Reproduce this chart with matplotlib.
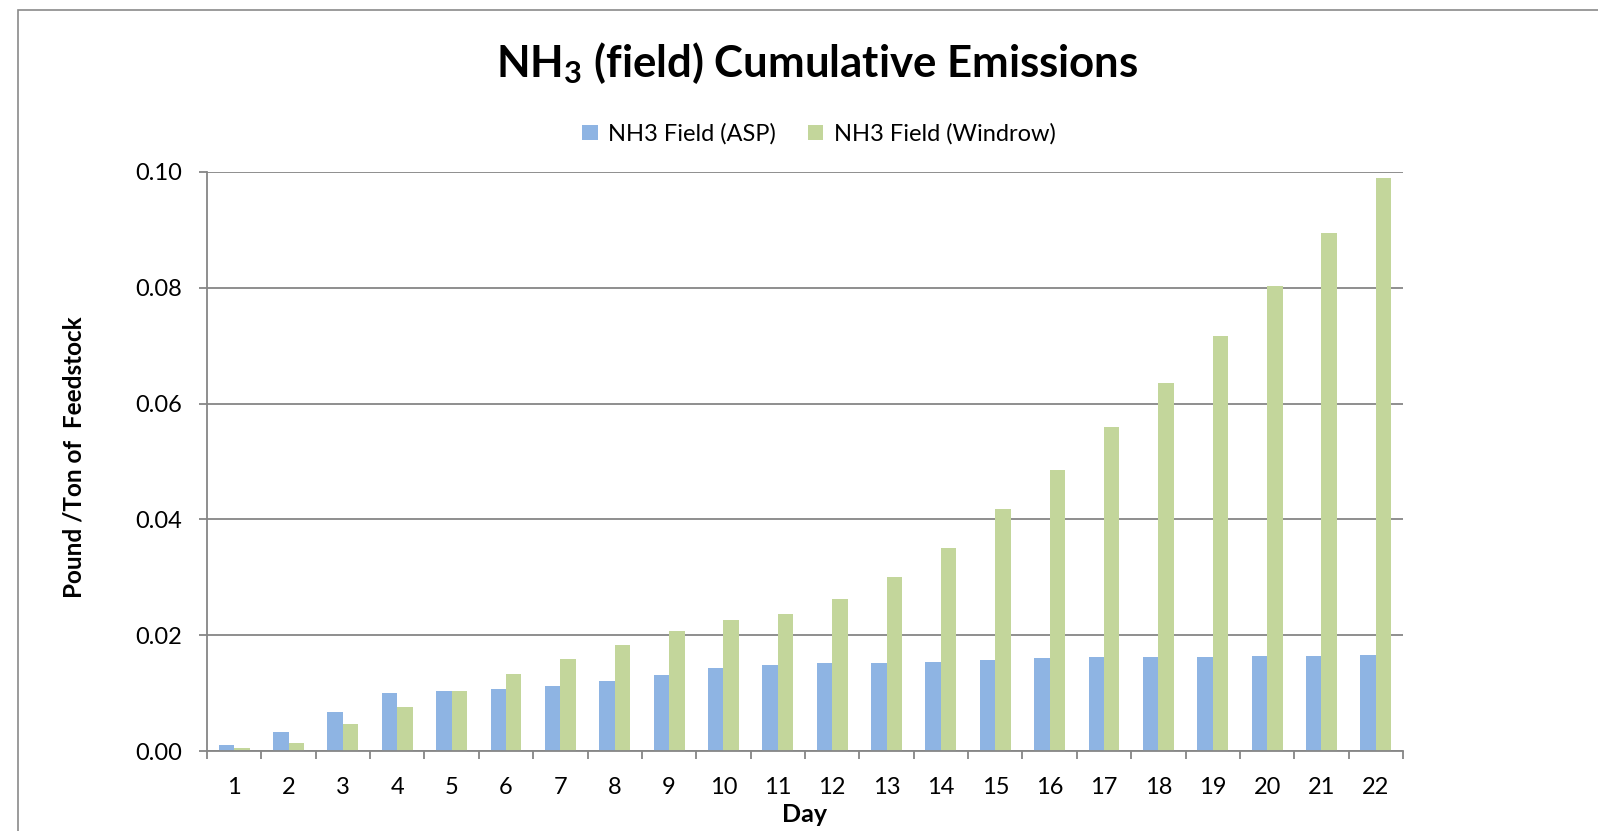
import matplotlib
matplotlib.use("Agg")
import matplotlib.pyplot as plt
from matplotlib.patches import Rectangle
import numpy as np

days = [str(d) for d in range(1, 23)]
asp = [0.00098, 0.00334, 0.00674, 0.00996, 0.01042, 0.01077, 0.01128, 0.01203,
       0.01307, 0.01428, 0.01491, 0.01514, 0.01525, 0.01537, 0.01572, 0.01600,
       0.01623, 0.01623, 0.01623, 0.01635, 0.01646, 0.01658]
windrow = [0.00046, 0.00144, 0.00466, 0.00766, 0.01042, 0.01324, 0.01583, 0.01825,
           0.02078, 0.02257, 0.02366, 0.02631, 0.03010, 0.03506, 0.04180, 0.04853,
           0.05590, 0.06360, 0.07170, 0.08030, 0.08950, 0.09900]
series_names = ["NH3 Field (ASP)", "NH3 Field (Windrow)"]
yticks = [0.00, 0.02, 0.04, 0.06, 0.08, 0.10]
ytick_labels = ["0.00", "0.02", "0.04", "0.06", "0.08", "0.10"]

plt.rcParams['font.family'] = ['Lato', 'DejaVu Sans']
plt.rcParams['mathtext.default'] = 'regular'

W, H = 1598, 831
fig = plt.figure(figsize=(W / 100, H / 100), dpi=100)
fig.patch.set_facecolor('white')

# outer chart border (cut off at right and bottom)
fig.patches.append(Rectangle((18 / W, -0.1), 1.2, (H - 10) / H + 0.1,
                             transform=fig.transFigure, fill=False,
                             edgecolor='#8a8a8a', linewidth=1.2))

ax = fig.add_axes([207 / W, 80 / H, (1403 - 207) / W, (751 - 172) / H])
x = np.arange(len(days))
bw = 0.285
c_blue = '#8EB4E3'
c_green = '#C3D69B'
ax.bar(x - bw / 2, asp, width=bw, color=c_blue, label=series_names[0], zorder=3)
ax.bar(x + bw / 2, windrow, width=bw, color=c_green, label=series_names[1], zorder=3)

ax.set_xlim(-0.5, len(days) - 0.5)
ax.set_ylim(0, 0.10)
ax.set_yticks(yticks)
ax.set_yticklabels(ytick_labels)
ax.set_xticks(x)
ax.set_xticklabels(days)
ax.set_xticks(np.arange(-0.5, len(days)), minor=True)

gcol = '#868686'
ax.yaxis.grid(True, color=gcol, linewidth=1.3, zorder=0)
ax.set_axisbelow(True)
for s in ['top', 'right']:
    ax.spines[s].set_visible(False)
for s in ['left', 'bottom']:
    ax.spines[s].set_color(gcol)
    ax.spines[s].set_linewidth(1.3)
ax.spines['bottom'].set_zorder(4)

ax.tick_params(axis='x', which='major', length=0, pad=19, labelsize=17, colors='black')
ax.tick_params(axis='x', which='minor', length=6, width=1.3, color=gcol, direction='out')
ax.tick_params(axis='y', which='major', length=6, width=1.3, color=gcol, pad=12,
               labelsize=17, labelcolor='black')

fig.text(805 / W, 1 - 815 / H, 'Day', fontsize=18, fontweight='bold',
         ha='center', va='center')
fig.text(74 / W, 1 - 457 / H, 'Pound /Ton of  Feedstock', rotation=90,
         fontsize=17.5, fontweight='bold', ha='center', va='center')

fig.text(817 / W, 1 - 63 / H, r'NH$_3$ (field) Cumulative Emissions',
         fontsize=31.5, fontweight='bold', ha='center', va='center')

leg = fig.legend(loc='center', bbox_to_anchor=(819 / W, 1 - 134 / H), ncol=2,
                 frameon=False, fontsize=17, handlelength=0.65, handleheight=0.65,
                 handletextpad=0.45, columnspacing=1.35)

fig.savefig('out.png', dpi=100, facecolor='white')
